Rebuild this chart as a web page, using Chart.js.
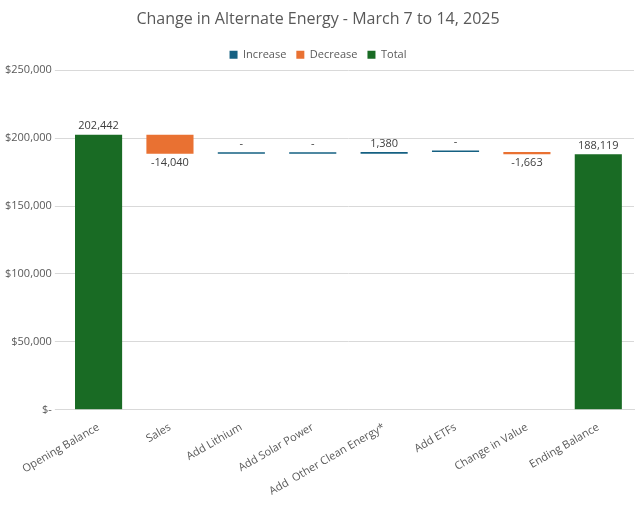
<!DOCTYPE html>
<html>
<head>
<meta charset="utf-8">
<script src="https://cdn.jsdelivr.net/npm/chart.js"></script>
<style>
  body { margin: 0; background: #fff; }
  #wrap { width: 642px; height: 505px; }
</style>
</head>
<body>
<div id="wrap"><canvas id="myChart"></canvas></div>
<script>
var categories = ['Opening Balance', 'Sales', 'Add Lithium', 'Add Solar Power', 'Add  Other Clean Energy*', 'Add ETFs', 'Change in Value', 'Ending Balance'];
var changes = [202442, -14040, 0, 0, 1380, 0, -1663, 188119];
var isTotal = [true, false, false, false, false, false, false, true];

// running balance -> floating bar ranges
var increase = [], decrease = [], total = [];
var running = 0;
for (var i = 0; i < changes.length; i++) {
  if (isTotal[i]) {
    running = changes[i];
    total.push([0, running]);
    increase.push(null);
    decrease.push(null);
  } else {
    var start = running;
    running += changes[i];
    total.push(null);
    if (changes[i] < 0) { decrease.push([start, running]); increase.push(null); }
    else { increase.push([start, running]); decrease.push(null); }
  }
}

function fmt(v) {
  if (v === 0) return '-';
  return (v < 0 ? '-' : '') + Math.abs(v).toLocaleString('en-US');
}

var barLabels = {
  id: 'barLabels',
  afterDatasetsDraw: function (chart) {
    var ctx = chart.ctx;
    ctx.save();
    ctx.font = '11px "Open Sans", sans-serif';
    ctx.fillStyle = '#404040';
    ctx.textAlign = 'center';
    chart.data.datasets.forEach(function (ds, di) {
      var meta = chart.getDatasetMeta(di);
      meta.data.forEach(function (bar, idx) {
        if (ds.data[idx] === null) return;
        var v = changes[idx];
        if (v < 0) {
          ctx.textBaseline = 'top';
          ctx.fillText(fmt(v), bar.x, Math.max(bar.y, bar.base) + 3);
        } else {
          ctx.textBaseline = 'bottom';
          ctx.fillText(fmt(v), bar.x, Math.min(bar.y, bar.base) - 3);
        }
      });
    });
    ctx.restore();
  }
};

var config = {
  type: 'bar',
  data: {
    labels: categories,
    datasets: [
      { label: 'Increase', data: increase, backgroundColor: '#156082', minBarLength: 1.5 },
      { label: 'Decrease', data: decrease, backgroundColor: '#E97132', minBarLength: 1.5 },
      { label: 'Total', data: total, backgroundColor: '#196B24' }
    ]
  },
  options: {
    responsive: true,
    maintainAspectRatio: false,
    animation: false,
    grouped: false,
    barPercentage: 0.66,
    categoryPercentage: 1,
    layout: { padding: { left: 2, right: 8, top: 4, bottom: 4 } },
    plugins: {
      title: {
        display: true,
        text: 'Change in Alternate Energy - March 7 to 14, 2025',
        color: '#595959',
        font: { family: '"Open Sans", sans-serif', size: 16, weight: 'normal' },
        padding: { top: 6, bottom: 10 }
      },
      legend: {
        labels: {
          boxWidth: 8, boxHeight: 8, color: '#595959',
          font: { family: '"Open Sans", sans-serif', size: 11 }
        }
      },
      tooltip: { enabled: false }
    },
    scales: {
      x: {
        grid: { display: false },
        border: { color: '#d9d9d9' },
        ticks: {
          color: '#595959', maxRotation: 30, minRotation: 30,
          font: { family: '"Open Sans", sans-serif', size: 11 }
        }
      },
      y: {
        min: 0, max: 250000,
        grid: { color: '#d9d9d9' },
        border: { display: false },
        ticks: {
          stepSize: 50000, color: '#595959',
          font: { family: '"Open Sans", sans-serif', size: 11 },
          callback: function (v) { return v === 0 ? '$-' : '$' + v.toLocaleString('en-US'); }
        }
      }
    }
  },
  plugins: [barLabels]
};

var ctx = document.getElementById('myChart').getContext('2d');
var myChart = new Chart(ctx, config);
</script>
</body>
</html>
